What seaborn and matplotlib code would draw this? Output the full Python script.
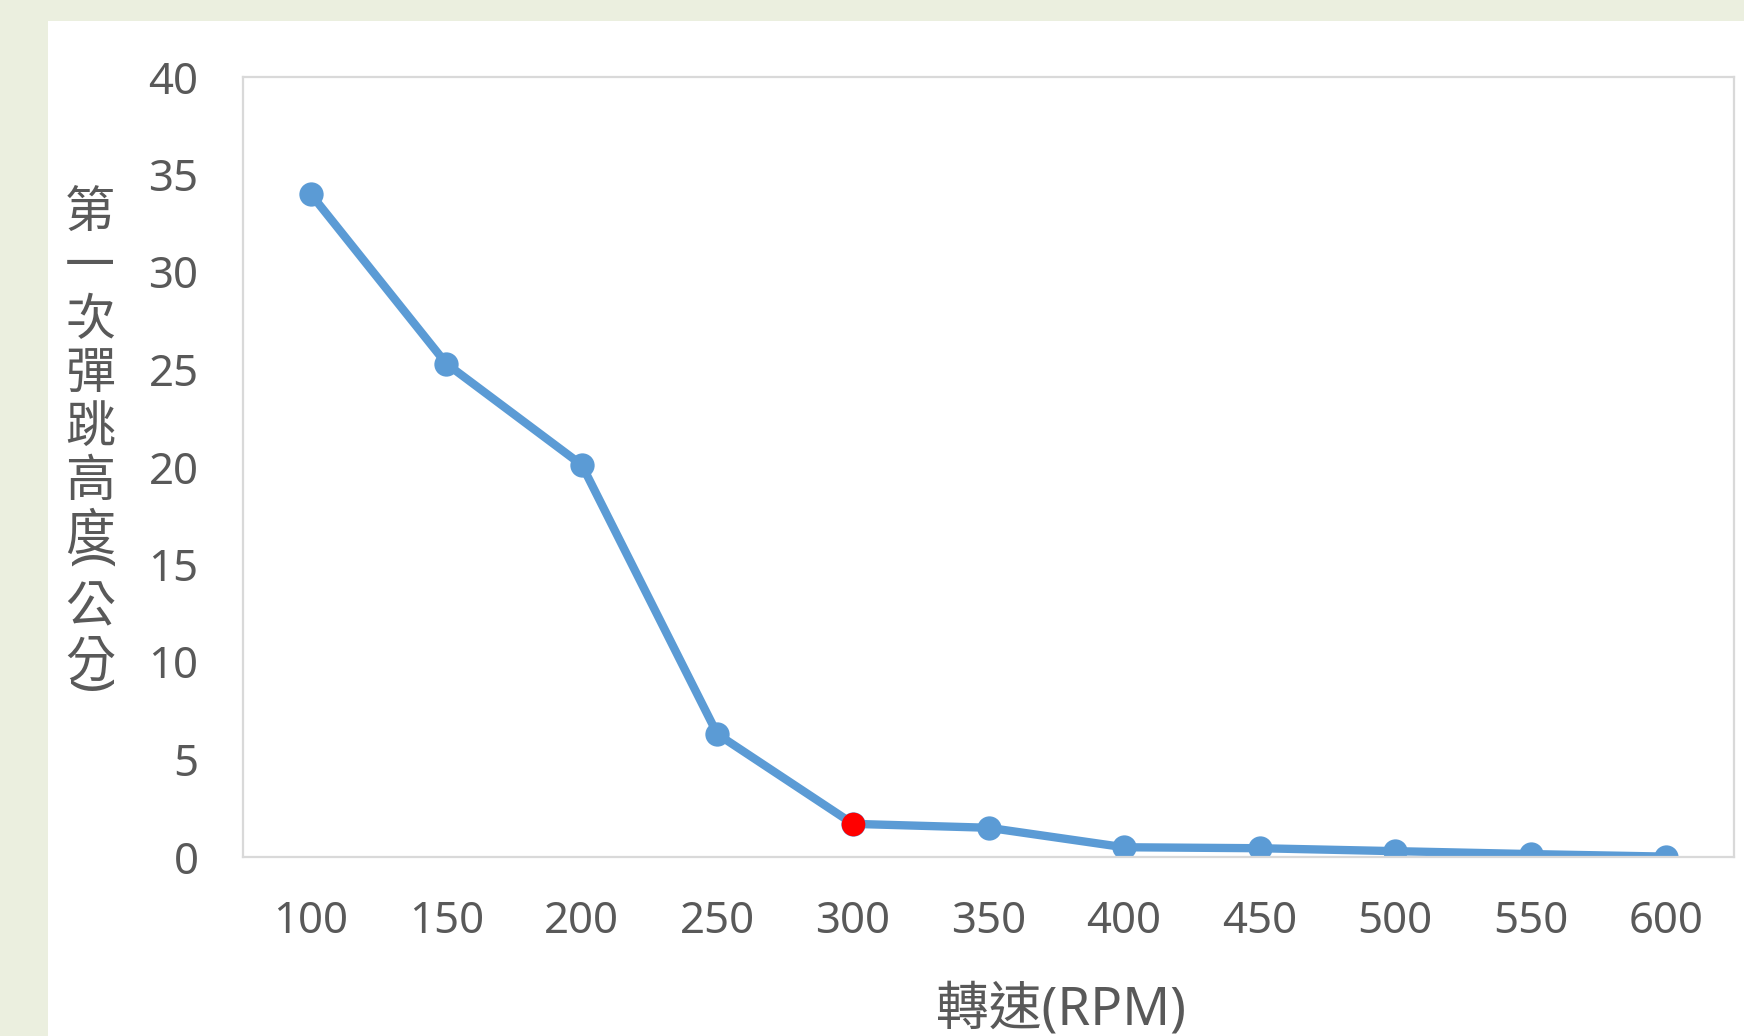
import numpy as np
import pandas as pd
import seaborn as sns
import matplotlib
matplotlib.use("Agg")
import matplotlib.pyplot as plt
from matplotlib.patches import Rectangle

# Data: first rebound height at each spin speed
rpm = ["100", "150", "200", "250", "300", "350", "400", "450", "500", "550", "600"]
height_cm = [34.0, 25.3, 20.1, 6.3, 1.7, 1.5, 0.5, 0.45, 0.3, 0.15, 0.02]
highlight_rpm = "300"

x_title = "轉速(RPM)"
y_title_chars = ["第", "一", "次", "彈", "跳", "高", "度", "(", "公", "分", ")"]
y_ticks = [0, 5, 10, 15, 20, 25, 30, 35, 40]

sns.set_theme(style="white")
plt.rcParams["font.family"] = ["Noto Sans", "Noto Sans CJK TC", "DejaVu Sans"]

W, H, DPI = 1744, 1036, 100
fig = plt.figure(figsize=(W / DPI, H / DPI), dpi=DPI)
fig.patch.set_facecolor("#EBEFDF")

# white chart panel behind everything
fig.patches.append(Rectangle((48 / W, 0), 1 - 48 / W, 1 - 21 / H,
                             transform=fig.transFigure, facecolor="white",
                             edgecolor="none", zorder=-5))

ax = fig.add_axes([243 / W, 1 - 857 / H, (1734 - 243) / W, (857 - 77) / H])
ax.set_facecolor("white")
ax.set_zorder(1)

df = pd.DataFrame({"rpm": rpm, "height": height_cm})
line_color = "#5B9BD5"
sns.pointplot(data=df, x="rpm", y="height", order=rpm, color=line_color,
              errorbar=None, markers="o", linestyles="-", linewidth=6,
              markersize=17.5, ax=ax)
for ln in ax.lines:
    ln.set_linewidth(6)
    ln.set_markersize(17.5)
    ln.set_markeredgewidth(0)
    ln.set_solid_joinstyle("round")

# highlighted measurement
hi = rpm.index(highlight_rpm)
ax.plot([hi], [height_cm[hi]], marker="o", linestyle="none", color="#FF0000",
        markersize=17, markeredgewidth=0, zorder=10)

ax.set_xlim(-0.5, len(rpm) - 0.5)
ax.set_ylim(0, 40)
ax.set_yticks(y_ticks)
ax.set_xlabel("")
ax.set_ylabel("")

for s in ax.spines.values():
    s.set_visible(True)
    s.set_color("#D9D9D9")
    s.set_linewidth(1.6)

ax.tick_params(axis="both", length=0, labelsize=31.5, labelcolor="#595959")
ax.tick_params(axis="y", pad=32)
ax.tick_params(axis="x", pad=31)

# axis titles
fig.text(1061 / W, 1 - 1011 / H, x_title, ha="center", va="center",
         fontsize=38, color="#595959")

yc = 214.0
for ch in y_title_chars:
    if ch == "(":
        fig.text(90 / W, 1 - 562 / H, ch, ha="center", va="center",
                 rotation=-90, rotation_mode="anchor", fontsize=36,
                 color="#595959")
        yc += 19
        continue
    if ch == ")":
        fig.text(90 / W, 1 - 686 / H, ch, ha="center", va="center",
                 rotation=-90, rotation_mode="anchor", fontsize=36,
                 color="#595959")
        continue
    fig.text(90 / W, 1 - yc / H, ch, ha="center", va="center",
             fontsize=36, color="#595959")
    yc += 53.8

fig.savefig("out.png", dpi=DPI, facecolor=fig.get_facecolor())
